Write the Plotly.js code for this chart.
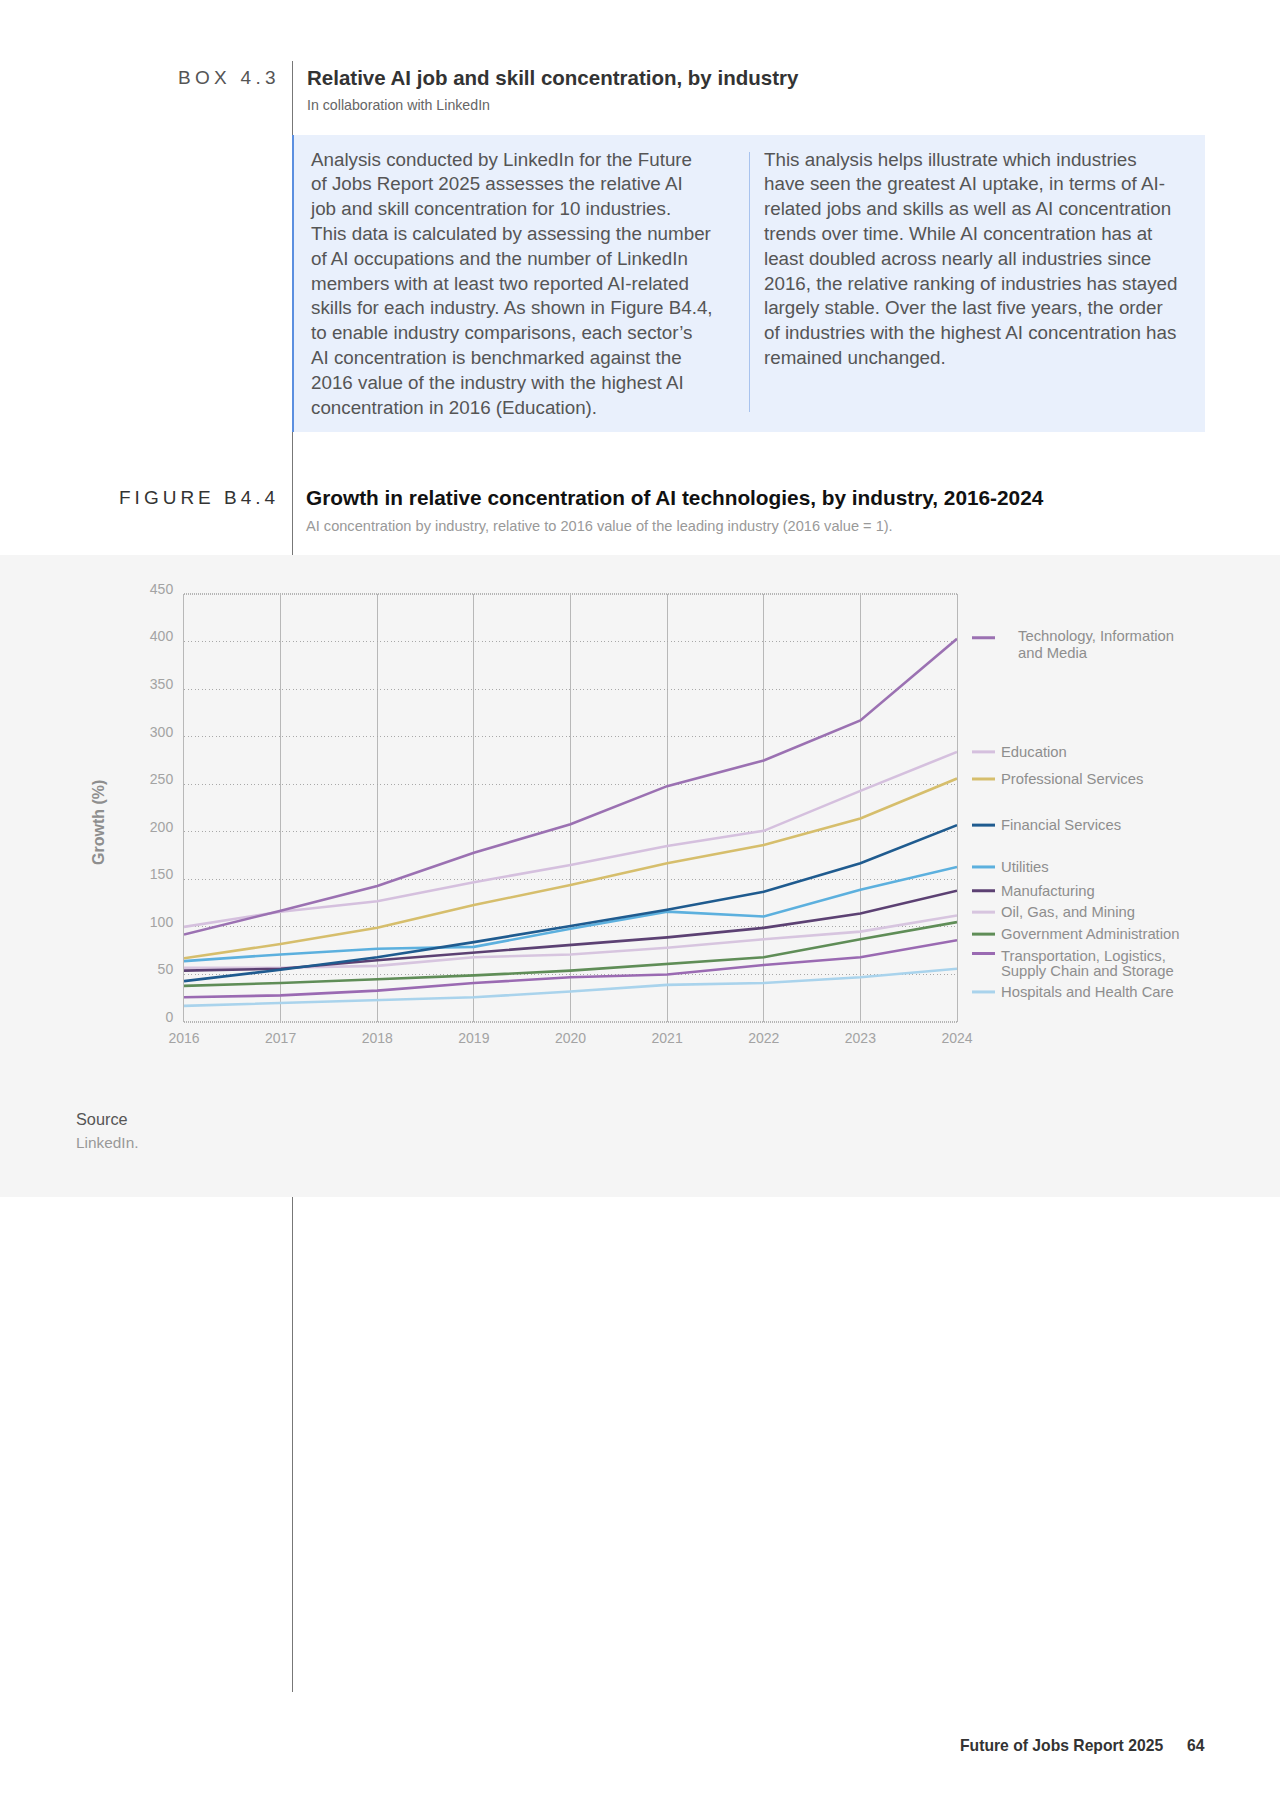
<!DOCTYPE html>
<html><head><meta charset="utf-8">
<script src="https://cdn.plot.ly/plotly-3.0.1.min.js"></script>
<style>
body{margin:0;width:1280px;height:1809px;background:#fff;position:relative;font-family:"Liberation Sans",Arial,sans-serif;overflow:hidden}
.abs{position:absolute;white-space:nowrap}
.body{font-size:18.8px;line-height:24.8px;color:#555}
</style></head><body>
<div class="abs" style="left:292px;top:61px;width:1px;height:1631px;background:#777"></div>
<div class="abs" style="left:178px;top:67px;font-size:19px;line-height:22px;letter-spacing:4.3px;color:#555;">BOX 4.3</div>
<div class="abs" style="left:307px;top:67px;font-size:20.5px;line-height:22px;font-weight:bold;color:#333;">Relative AI job and skill concentration, by industry</div>
<div class="abs" style="left:307px;top:97px;font-size:14.2px;line-height:16px;color:#666;">In collaboration with LinkedIn</div>
<div class="abs" style="left:292px;top:135px;width:913px;height:297px;background:#e9f0fc;border-left:2px solid #5b8fe0;box-sizing:border-box"></div>
<div class="abs" style="left:749px;top:152px;width:1px;height:260px;background:#a8c3ee"></div>
<div class="abs body" style="left:311px;top:147.6px">Analysis conducted by LinkedIn for the Future<br>of Jobs Report 2025 assesses the relative AI<br>job and skill concentration for 10 industries.<br>This data is calculated by assessing the number<br>of AI occupations and the number of LinkedIn<br>members with at least two reported AI-related<br>skills for each industry. As shown in Figure B4.4,<br>to enable industry comparisons, each sector’s<br>AI concentration is benchmarked against the<br>2016 value of the industry with the highest AI<br>concentration in 2016 (Education).</div>
<div class="abs body" style="left:764px;top:147.6px">This analysis helps illustrate which industries<br>have seen the greatest AI uptake, in terms of AI-<br>related jobs and skills as well as AI concentration<br>trends over time. While AI concentration has at<br>least doubled across nearly all industries since<br>2016, the relative ranking of industries has stayed<br>largely stable. Over the last five years, the order<br>of industries with the highest AI concentration has<br>remained unchanged.</div>
<div class="abs" style="left:119px;top:487px;font-size:19px;line-height:22px;letter-spacing:4px;color:#333;">FIGURE B4.4</div>
<div class="abs" style="left:306px;top:487px;font-size:20.8px;line-height:22px;font-weight:bold;color:#111;">Growth in relative concentration of AI technologies, by industry, 2016-2024</div>
<div class="abs" style="left:306px;top:518px;font-size:14.6px;line-height:16px;color:#999;">AI concentration by industry, relative to 2016 value of the leading industry (2016 value = 1).</div>
<div id="chart" class="abs" style="left:0;top:555px;width:1280px;height:642px"></div>
<div class="abs" style="left:76px;top:1109px;font-size:16.3px;line-height:20px;color:#555;">Source</div>
<div class="abs" style="left:76px;top:1134px;font-size:15.4px;line-height:18px;color:#999;">LinkedIn.</div>
<div class="abs" style="left:960px;top:1736px;font-size:15.7px;line-height:20px;font-weight:bold;color:#333;">Future of Jobs Report 2025</div>
<div class="abs" style="left:1187px;top:1736px;font-size:15.7px;line-height:20px;font-weight:bold;color:#333;">64</div>
<script>
const years = [2016, 2017, 2018, 2019, 2020, 2021, 2022, 2023, 2024];
const industries = ["Technology, Information and Media", "Education", "Professional Services", "Financial Services", "Utilities", "Manufacturing", "Oil, Gas, and Mining", "Government Administration", "Transportation, Logistics, Supply Chain and Storage", "Hospitals and Health Care"];
const labelLines = [["Technology, Information", "and Media"], ["Education"], ["Professional Services"], ["Financial Services"], ["Utilities"], ["Manufacturing"], ["Oil, Gas, and Mining"], ["Government Administration"], ["Transportation, Logistics,", "Supply Chain and Storage"], ["Hospitals and Health Care"]];
const tech = [92, 117, 143, 178, 208, 248, 275, 317, 403];
const education = [100, 116, 127, 147, 165, 185, 201, 243, 284];
const professional = [67, 82, 99, 123, 144, 167, 186, 214, 256];
const financial = [43, 55, 68, 84, 101, 118, 137, 167, 207];
const utilities = [64, 71, 77, 79, 98, 116, 111, 139, 163];
const manufacturing = [54, 56, 65, 73, 81, 89, 99, 114, 138];
const oilGas = [57, 57, 59, 68, 71, 78, 87, 95, 112];
const government = [38, 41, 45, 49, 54, 61, 68, 87, 105];
const transportation = [26, 28, 33, 41, 47, 50, 60, 68, 86];
const hospitals = [17, 20, 23, 26, 32, 39, 41, 47, 56];
const yTicks = [0, 50, 100, 150, 200, 250, 300, 350, 400, 450];

const series = [tech, education, professional, financial, utilities, manufacturing, oilGas, government, transportation, hospitals];
const colors = ["#9b71b2", "#d5c0de", "#d6be6c", "#1f5b8f", "#5cb0de", "#5c4173", "#d7c5df", "#5f8d57", "#9a6ab2", "#a9d3ec"];
// legend label vertical placement (axis units), layout only
const labelPos = [404, 284, 255.5, 207, 163, 138, 115.5, 92.4, 72, 31.6];

const traces = [];
for (let i = series.length - 1; i >= 0; i--) {
  traces.push({x: years, y: series[i], name: industries[i], type: 'scatter', mode: 'lines',
    line: {color: colors[i], width: 2.6}, hoverinfo: 'skip'});
}
const shapes = [
  {type: 'line', xref: 'paper', yref: 'paper', x0: 0, x1: 1, y0: 1, y1: 1, layer: 'below',
   line: {color: '#a0a0a0', width: 1.5, dash: '1px,1px'}},
  {type: 'line', xref: 'paper', yref: 'paper', x0: 0, x1: 1, y0: 0, y1: 0, layer: 'below',
   line: {color: '#a0a0a0', width: 1.5, dash: '1px,1px'}}
];
const annotations = [];
labelLines.forEach((lines, i) => {
  shapes.push({type: 'line', xref: 'paper', xsizemode: 'pixel', xanchor: 1, x0: 15, x1: 38,
    yref: 'y', y0: labelPos[i], y1: labelPos[i], line: {color: colors[i], width: 3}});
  const twoLine = lines.length > 1;
  lines.forEach((t, k) => {
    annotations.push({xref: 'paper', x: 1, xanchor: 'left', xshift: i === 0 ? 59 : 42,
      yref: 'y', y: labelPos[i], yanchor: 'middle',
      yshift: twoLine ? (i === 0 ? 2 - 17 * k : -2 - 15 * k) : 0,
      text: t, showarrow: false, font: {size: 14.8, color: '#8e8e8e', family: 'Liberation Sans, Arial, sans-serif'}});
  });
});
annotations.push({xref: 'paper', yref: 'paper', x: 0, y: 0.5, xshift: -86, yshift: -15,
  xanchor: 'center', yanchor: 'middle', textangle: -90, showarrow: false,
  text: '<b>Growth (%)</b>', font: {size: 16, color: '#8e8e8e', family: 'Liberation Sans, Arial, sans-serif'}});

const layout = {
  width: 1280, height: 642,
  margin: {l: 184, r: 323, t: 39, b: 175},
  paper_bgcolor: '#f5f5f5', plot_bgcolor: '#f5f5f5',
  showlegend: false,
  font: {family: 'Liberation Sans, Arial, sans-serif', color: '#a3a3a3', size: 14},
  xaxis: {range: [2016, 2024], tickvals: years, ticktext: years.map(String), showgrid: true,
    gridcolor: '#b8b8b8', gridwidth: 1, zeroline: false, showline: false, ticks: '',
    ticklabelstandoff: 6, tickfont: {size: 14, color: '#a3a3a3'}, fixedrange: true},
  yaxis: {range: [0, 450], tickvals: yTicks, showgrid: true, gridcolor: '#a8a8a8', gridwidth: 1,
    griddash: '1px,2.5px', zeroline: false, showline: true, mirror: true, linecolor: '#b8b8b8', linewidth: 1,
    ticks: '', ticklabelstandoff: 7, ticklabelshift: -5,
    tickfont: {size: 14, color: '#a3a3a3'}, fixedrange: true},
  shapes: shapes, annotations: annotations
};
Plotly.newPlot('chart', traces, layout, {staticPlot: true, displayModeBar: false});
</script>
</body></html>
